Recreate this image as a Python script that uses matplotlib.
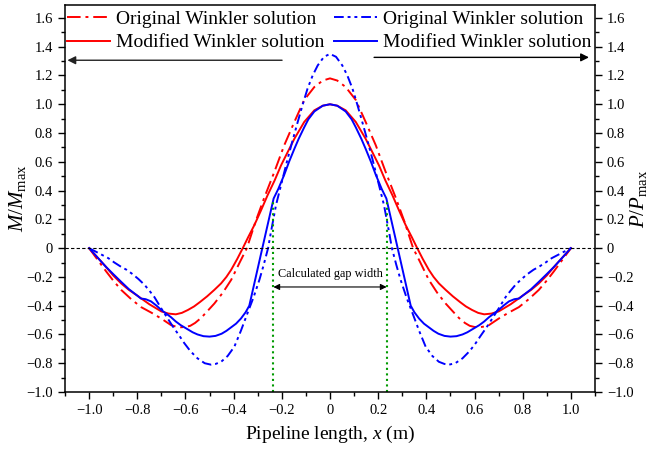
import matplotlib
matplotlib.use("Agg")
import matplotlib.pyplot as plt
from matplotlib.ticker import MultipleLocator, FuncFormatter

plt.rcParams['font.family'] = ['Liberation Serif', 'DejaVu Serif']
plt.rcParams['mathtext.fontset'] = 'custom'
plt.rcParams['mathtext.rm'] = 'Liberation Serif'
plt.rcParams['mathtext.it'] = 'Liberation Serif:italic'

# ---------------- data ----------------
# Modified Winkler solution, M/Mmax (red solid)
x_m_mod = [-1.0, -0.965, -0.93, -0.90, -0.867, -0.835, -0.80, -0.775, -0.75, -0.725, -0.70, -0.67,
           -0.64, -0.615, -0.59, -0.564, -0.54, -0.51, -0.48, -0.452, -0.43, -0.41, -0.385,
           -0.362, -0.34, -0.314, -0.287, -0.259, -0.23, -0.203, -0.175, -0.148, -0.107,
           -0.065, -0.03, 0.0,
           0.03, 0.065, 0.107, 0.148, 0.175, 0.203, 0.23, 0.259, 0.287, 0.314, 0.34, 0.362,
           0.385, 0.41, 0.43, 0.452, 0.48, 0.51, 0.54, 0.564, 0.59, 0.615, 0.64, 0.67, 0.70,
           0.725, 0.75, 0.775, 0.80, 0.835, 0.867, 0.90, 0.93, 0.965, 1.0]
y_m_mod = [0.0, -0.065, -0.13, -0.19, -0.245, -0.29, -0.33, -0.36, -0.39, -0.415, -0.44, -0.455,
           -0.46, -0.45, -0.43, -0.405, -0.375, -0.335, -0.29, -0.245, -0.20, -0.15, -0.075,
           0.0, 0.075, 0.16, 0.26, 0.368, 0.47, 0.576, 0.67, 0.76, 0.877,
           0.958, 0.99, 1.0,
           0.99, 0.958, 0.877, 0.76, 0.67, 0.576, 0.47, 0.368, 0.26, 0.16, 0.075, 0.0,
           -0.075, -0.15, -0.20, -0.245, -0.29, -0.335, -0.375, -0.405, -0.43, -0.45, -0.46, -0.455, -0.44,
           -0.415, -0.39, -0.36, -0.33, -0.29, -0.245, -0.19, -0.13, -0.065, 0.0]

# Original Winkler solution, M/Mmax (red dash-dot)
x_m_org = [-1.0, -0.965, -0.93, -0.90, -0.867, -0.825, -0.784, -0.74, -0.70, -0.66, -0.64, -0.62,
           -0.60, -0.58, -0.56, -0.535, -0.51, -0.48, -0.445, -0.41, -0.375, -0.345, -0.31,
           -0.273, -0.231, -0.19, -0.148, -0.107, -0.065, -0.03, 0.0,
           0.03, 0.065, 0.107, 0.148, 0.19, 0.231, 0.273, 0.31, 0.345, 0.375, 0.41, 0.445,
           0.48, 0.51, 0.535, 0.56, 0.58, 0.60, 0.62, 0.64, 0.66, 0.70, 0.74, 0.784, 0.825,
           0.867, 0.90, 0.93, 0.965, 1.0]
y_m_org = [0.0, -0.08, -0.16, -0.225, -0.29, -0.355, -0.41, -0.45, -0.49, -0.535, -0.545, -0.55,
           -0.548, -0.54, -0.52, -0.485, -0.44, -0.385, -0.31, -0.22, -0.10, 0.0, 0.18,
           0.35, 0.53, 0.715, 0.877, 1.03, 1.12, 1.165, 1.18,
           1.165, 1.12, 1.03, 0.877, 0.715, 0.53, 0.35, 0.18, 0.0, -0.10, -0.22, -0.31,
           -0.385, -0.44, -0.485, -0.52, -0.54, -0.548, -0.55, -0.545, -0.535, -0.49, -0.45, -0.41, -0.355,
           -0.29, -0.225, -0.16, -0.08, 0.0]

# Modified Winkler solution, P/Pmax (blue solid)
x_p_mod = [-1.0, -0.965, -0.93, -0.90, -0.867, -0.835, -0.80, -0.785, -0.765, -0.743, -0.72,
           -0.70, -0.68, -0.66, -0.64, -0.62, -0.59, -0.57, -0.55, -0.525, -0.50, -0.475, -0.45,
           -0.43, -0.41, -0.39, -0.37, -0.35, -0.335, -0.285, -0.234, -0.215, -0.19, -0.17,
           -0.148, -0.13, -0.107, -0.09, -0.065, -0.03, 0.0,
           0.03, 0.065, 0.09, 0.107, 0.13, 0.148, 0.17, 0.19, 0.215, 0.234, 0.285, 0.335, 0.35,
           0.37, 0.39, 0.41, 0.43, 0.45, 0.475, 0.50, 0.525, 0.55, 0.57, 0.59, 0.62, 0.64, 0.66,
           0.68, 0.70, 0.72, 0.743, 0.765, 0.785, 0.80, 0.835, 0.867, 0.90, 0.93, 0.965, 1.0]
y_p_mod = [0.0, -0.065, -0.13, -0.18, -0.234, -0.285, -0.33, -0.35, -0.355, -0.37, -0.40,
           -0.43, -0.455, -0.48, -0.51, -0.535, -0.565, -0.585, -0.60, -0.612, -0.615, -0.61, -0.595,
           -0.575, -0.55, -0.525, -0.49, -0.445, -0.40, -0.03, 0.345, 0.41, 0.51, 0.60,
           0.69, 0.76, 0.84, 0.895, 0.95, 0.99, 1.0,
           0.99, 0.95, 0.895, 0.84, 0.76, 0.69, 0.60, 0.51, 0.41, 0.345, -0.03, -0.40, -0.445,
           -0.49, -0.525, -0.55, -0.575, -0.595, -0.61, -0.615, -0.612, -0.60, -0.585, -0.565, -0.535, -0.51, -0.48,
           -0.455, -0.43, -0.40, -0.37, -0.355, -0.35, -0.33, -0.285, -0.234, -0.18, -0.13, -0.065, 0.0]

# Original Winkler solution, P/Pmax (blue dash-dot-dot)
x_p_org = [-1.0, -0.96, -0.92, -0.895, -0.867, -0.845, -0.82, -0.795, -0.77, -0.75, -0.729,
           -0.70, -0.66, -0.646, -0.625, -0.605, -0.58, -0.55, -0.52, -0.494, -0.475, -0.452,
           -0.425, -0.397, -0.37, -0.342, -0.317, -0.293, -0.275, -0.257, -0.245, -0.224,
           -0.203, -0.176, -0.155, -0.134, -0.113, -0.093, -0.072, -0.051, -0.025, 0.0,
           0.025, 0.051, 0.072, 0.093, 0.113, 0.134, 0.155, 0.176, 0.203, 0.224, 0.245, 0.257,
           0.275, 0.293, 0.317, 0.342, 0.37, 0.397, 0.425, 0.452, 0.475, 0.494, 0.52, 0.55,
           0.58, 0.605, 0.625, 0.646, 0.66, 0.70, 0.729, 0.75, 0.77, 0.795, 0.82, 0.845, 0.867,
           0.895, 0.92, 0.96, 1.0]
y_p_org = [0.0, -0.035, -0.07, -0.10, -0.13, -0.15, -0.18, -0.215, -0.255, -0.295, -0.34,
           -0.42, -0.525, -0.56, -0.61, -0.66, -0.715, -0.766, -0.80, -0.81, -0.805, -0.79,
           -0.75, -0.685, -0.575, -0.45, -0.34, -0.22, -0.115, 0.0, 0.113, 0.30,
           0.44, 0.62, 0.75, 0.877, 1.0, 1.11, 1.20, 1.27, 1.33, 1.35,
           1.33, 1.27, 1.20, 1.11, 1.0, 0.877, 0.75, 0.62, 0.44, 0.30, 0.113, 0.0,
           -0.115, -0.22, -0.34, -0.45, -0.575, -0.685, -0.75, -0.79, -0.805, -0.81, -0.80, -0.766,
           -0.715, -0.66, -0.61, -0.56, -0.525, -0.42, -0.34, -0.295, -0.255, -0.215, -0.18, -0.15, -0.13,
           -0.10, -0.07, -0.035, 0.0]

gap_x = [-0.235, 0.235]
gap_top = 0.33
labels = ["Original Winkler solution", "Modified Winkler solution"]

# ---------------- figure ----------------
fig = plt.figure(figsize=(6.54, 4.49), dpi=100)
ax = fig.add_axes([65/654, 1-392/449, 530/654, 387/449])
ax.set_xlim(-1.1, 1.1)
ax.set_ylim(-1.0, 1.69)

red = '#ff0000'
blue = '#0000ff'
lw = 1.4

l1, = ax.plot(x_m_org, y_m_org, color=red, lw=lw, dashes=(7, 2.5, 1.5, 2.5))
l2, = ax.plot(x_m_mod, y_m_mod, color=red, lw=lw)
l3, = ax.plot(x_p_org, y_p_org, color=blue, lw=lw, dashes=(5, 2, 1.5, 2, 1.5, 2))
l4, = ax.plot(x_p_mod, y_p_mod, color=blue, lw=lw)

ax.axhline(0, color='black', lw=0.8, dashes=(3, 2))
for gx in gap_x:
    ax.plot([gx, gx], [-1.0, gap_top], color='#009a00', lw=1.5, ls=':')

ax.annotate('', xy=(gap_x[0], -0.27), xytext=(gap_x[1], -0.27),
            arrowprops=dict(arrowstyle='<|-|>', color='black', lw=0.8,
                            mutation_scale=9, shrinkA=0, shrinkB=0))
ax.text(0, -0.18, 'Calculated gap width', ha='center', va='center', fontsize=8.8)

ax.annotate('', xy=(-1.09, 1.306), xytext=(-0.199, 1.306),
            arrowprops=dict(arrowstyle='-|>', color='#222222', lw=1.0,
                            mutation_scale=12, shrinkA=0, shrinkB=0))
ax.annotate('', xy=(1.075, 1.326), xytext=(0.183, 1.326),
            arrowprops=dict(arrowstyle='-|>', color='black', lw=1.0,
                            mutation_scale=12, shrinkA=0, shrinkB=0))

leg_kw = dict(loc='upper left', frameon=False, fontsize=14, handlelength=2.2,
              handletextpad=0.3, labelspacing=0.3, borderpad=0, borderaxespad=0)
leg1 = ax.legend([l1, l2], labels, bbox_to_anchor=(0.004, 0.986), **leg_kw)
ax.add_artist(leg1)
ax.legend([l3, l4], labels, bbox_to_anchor=(0.508, 0.986), **leg_kw)

def fmt(v, pos):
    if abs(v) < 1e-9:
        return '0'
    s = '%.1f' % v
    return s.replace('-', '\u2212')

ax.xaxis.set_major_locator(MultipleLocator(0.2))
ax.xaxis.set_minor_locator(MultipleLocator(0.1))
ax.yaxis.set_major_locator(MultipleLocator(0.2))
ax.yaxis.set_minor_locator(MultipleLocator(0.1))
ax.xaxis.set_major_formatter(FuncFormatter(fmt))
ax.yaxis.set_major_formatter(FuncFormatter(fmt))
ax.tick_params(which='both', direction='out', labelsize=10.5, width=1.0,
               top=False, right=True, labelright=True)
ax.tick_params(which='major', length=5)
ax.tick_params(which='minor', length=3)
for sp in ax.spines.values():
    sp.set_linewidth(1.1)

ax.set_xlabel('Pipeline length, $x$ (m)', fontsize=14, labelpad=5)
ax.set_ylabel(r'$M/M_{\mathrm{max}}$', fontsize=15)
ax.yaxis.set_label_coords(-0.07, 0.5)
ax.text(1.083, 0.5, r'$P/P_{\mathrm{max}}$', transform=ax.transAxes, rotation=90,
        ha='center', va='center', fontsize=15)

fig.savefig('out.png', dpi=100)
